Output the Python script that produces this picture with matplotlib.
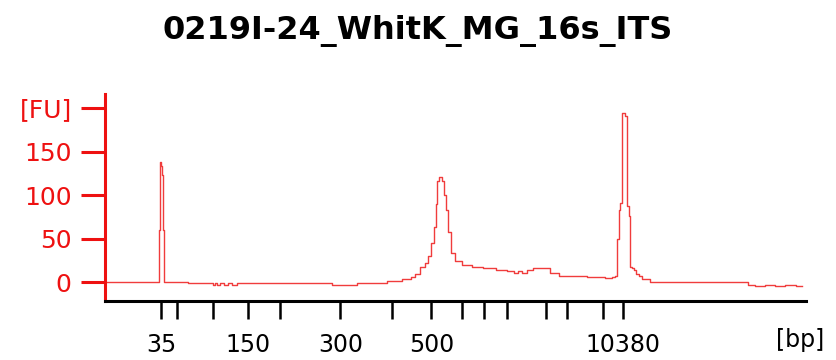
#!/usr/bin/env python3
"""Electropherogram trace (Bioanalyzer-style) for sample 0219I-24_WhitK_MG_16s_ITS."""

import matplotlib

matplotlib.use("Agg")
import matplotlib.pyplot as plt
import numpy as np

TITLE = "0219I-24_WhitK_MG_16s_ITS"

# ladder sizes and their migration positions along the run axis
ladder_bp = [35, 50, 100, 150, 200, 300, 400, 500, 600, 700, 1000, 2000, 3000, 7000, 10380]
ladder_pos = [161, 177.5, 212.7, 247.9, 279.8, 340.4, 392.5, 431.5, 462.4, 483.6,
              506.6, 546, 567, 603, 623.5]
labelled_bp = [35, 150, 300, 500, 10380]

# trace: run position vs fluorescence
trace_pos = [105, 158, 159.5, 160.5, 161.5, 162.7, 164, 165, 212, 214, 216, 218, 222, 226, 230,
             234, 240, 250, 300, 330, 334, 380, 395, 410, 413, 418, 423, 427, 430, 433,
             435, 437, 438, 440.7, 443, 445, 446.7, 450, 453, 458, 466.7, 476.7, 490, 503,
             512, 516, 520, 525, 530, 536.7, 548, 553, 565, 575, 600, 610, 614, 616.7,
             618.3, 619.3, 621.7, 623.3, 626.7, 628.3, 630, 630.7, 633, 635, 638, 640,
             645, 655, 660, 746.7, 750, 760, 770, 780, 790, 801.7]
trace_fu = [0, 0, 60, 138, 133, 123, 60, 0, -1, -3, -1, -3, -1, -3, -1,
            -3, -1, -1, -1, -1, -3, -1, 1, 4, 6, 9, 17, 22, 30, 45,
            63, 90, 116, 121, 116, 100, 83, 58, 34, 24, 20, 17.6, 16, 14.5,
            13, 11, 12.6, 11, 14, 16.5, 16.5, 10.8, 7, 6.9, 6, 5, 6, 7,
            50, 83, 91, 194, 191, 87, 75.6, 18, 16, 14, 10, 7,
            4, 0, 0, 0, -3, -4, -3, -4, -3, -4]


def main():
    fig = plt.figure(figsize=(8.36, 3.6), dpi=100)
    ax = fig.add_axes([0.1256, 0.165, 0.8384, 0.574])

    ax.plot(trace_pos, trace_fu, color="#f03c3c", linewidth=1.0, drawstyle="steps-mid")

    ax.set_xlim(105, 806)
    ax.set_ylim(-21, 216)

    for side in ("top", "right"):
        ax.spines[side].set_visible(False)
    ax.spines["left"].set_color("#ee1111")
    ax.spines["left"].set_linewidth(2.2)
    ax.spines["bottom"].set_color("black")
    ax.spines["bottom"].set_linewidth(2.2)

    ax.set_yticks([0, 50, 100, 150, 200])
    ax.set_yticklabels(["0", "50", "100", "150", "[FU]"])
    ax.tick_params(axis="y", colors="#ee1111", labelcolor="#ee1111", length=17,
                   width=2.2, pad=7, labelsize=18)

    ax.set_xticks(ladder_pos)
    ax.set_xticklabels([str(b) if b in labelled_bp else "" for b in ladder_bp])
    ax.tick_params(axis="x", colors="black", length=13, width=1.8, pad=10,
                   labelsize=17, direction="out")

    fig.text(0.957, 0.055, "[bp]", fontsize=17, ha="center", va="center")
    fig.text(0.5, 0.915, TITLE, fontsize=23, fontweight="bold", ha="center", va="center")

    fig.savefig("out.png", dpi=100)
    plt.close(fig)


if __name__ == "__main__":
    main()
